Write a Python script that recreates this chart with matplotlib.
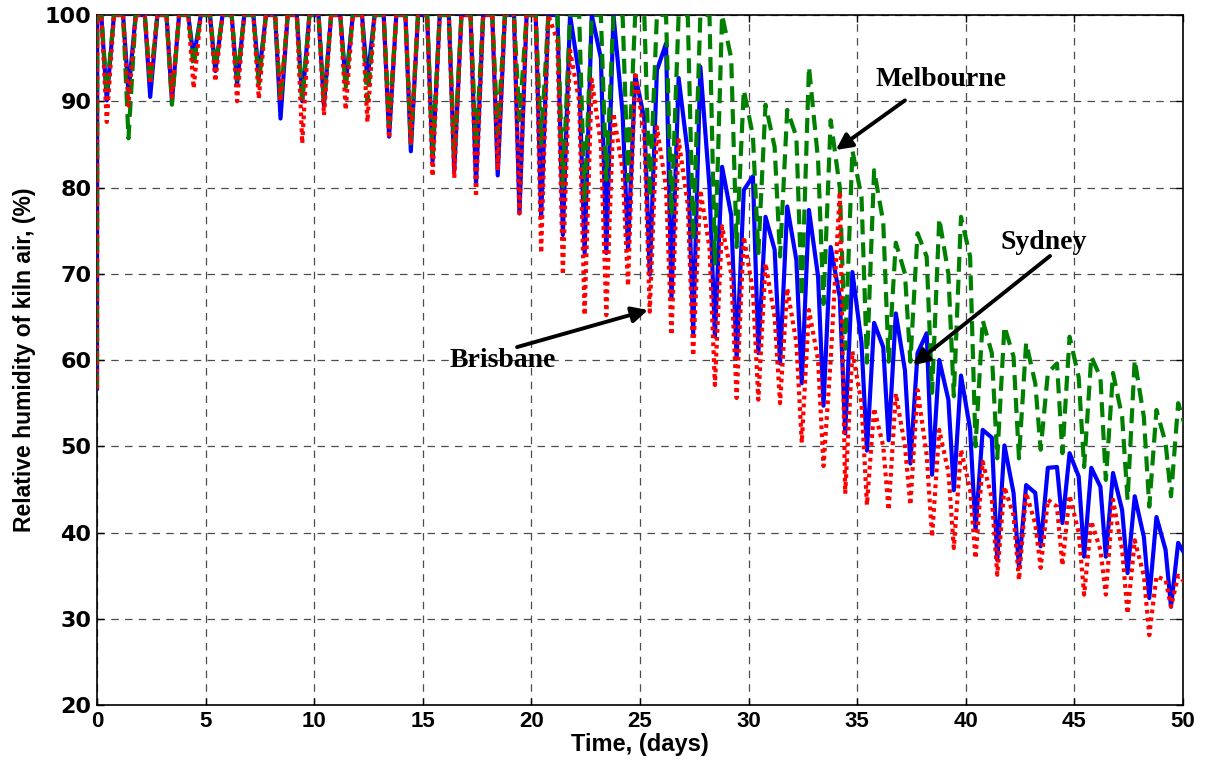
import numpy as np
import matplotlib
matplotlib.use("Agg")
import matplotlib.pyplot as plt

# ---------------- data ----------------
days = list(range(50))
start_value = 56.7

sydney_trough = [90.1, 91.0, 90.5, 90.0, 95.0, 93.5, 92.0, 92.8, 88.0, 90.0,
                 89.5, 92.0, 92.5, 85.9, 84.2, 83.0, 82.0, 80.4, 81.4, 77.0,
                 76.6, 74.5, 72.4, 72.4, 72.8, 69.9, 67.1, 63.1, 62.7, 60.2,
                 60.8, 59.6, 57.3, 54.7, 51.5, 49.5, 50.7, 48.0, 46.7, 44.9,
                 40.3, 36.8, 36.0, 38.4, 41.1, 37.2, 37.2, 35.3, 32.4, 31.4]
sydney_peak = [100] * 23 + [100, 93.0, 93.6, 92.7, 94.0, 82.4, 79.7, 76.6, 77.8,
                            77.4, 73.1, 70.2, 64.3, 65.4, 60.8, 60.0, 58.2, 51.9, 50.1,
                            45.5, 47.5, 49.2, 47.5, 46.9, 44.2, 41.8, 38.8]
sydney_shoulder = [100] * 21 + [93.0, 95.0, 88.6, 88.0, 96.7, 84.0, 80.1, 76.8, 81.3,
                                72.8, 71.6, 69.7, 67.3, 62.0, 61.5, 58.8, 63.1, 55.4, 52.0,
                                51.0, 44.6, 44.6, 47.6, 46.5, 45.3, 42.6, 39.5, 38.0, 37.0]

melbourne_trough = [91.0, 85.7, 92.0, 89.6, 94.0, 94.0, 92.5, 92.0, 90.0, 90.0,
                    90.0, 91.5, 90.0, 87.4, 85.1, 84.0, 83.7, 84.7, 86.3, 87.8,
                    85.1, 80.1, 78.2, 80.9, 80.8, 78.9, 76.8, 73.9, 71.2, 73.1,
                    72.4, 72.0, 67.3, 66.5, 61.3, 59.7, 59.8, 59.8, 56.2, 55.8,
                    50.0, 48.6, 48.6, 49.6, 49.2, 47.6, 46.1, 43.8, 43.0, 44.2]
melbourne_peak = [100] * 29 + [91.3, 89.6, 89.0, 94.0, 87.8, 84.3, 82.0, 73.6, 74.7,
                               76.4, 76.6, 64.6, 63.9, 62.0, 58.5, 62.7, 60.4, 58.5, 60.0,
                               54.2, 55.0]
melbourne_shoulder = [100] * 28 + [95.0, 86.0, 84.7, 85.9, 83.2, 80.0, 78.9, 76.0, 70.0,
                                   72.0, 70.0, 72.0, 60.8, 60.4, 57.3, 59.6, 58.0, 58.0, 53.4,
                                   53.4, 50.4, 51.5]

brisbane_trough = [87.6, 89.5, 92.0, 90.5, 91.5, 92.3, 90.0, 90.3, 90.0, 85.1,
                   88.4, 89.0, 87.6, 85.7, 85.0, 81.3, 81.1, 78.9, 82.0, 77.0,
                   72.4, 69.9, 65.2, 65.2, 68.6, 65.6, 62.9, 60.5, 57.1, 55.6,
                   55.4, 55.0, 50.4, 47.7, 44.5, 43.2, 42.6, 43.2, 39.5, 38.2,
                   37.0, 35.1, 34.5, 35.9, 36.2, 32.8, 32.8, 30.6, 28.1, 31.4]
brisbane_peak = [100] * 21 + [95.9, 92.5, 88.6, 93.4, 87.0, 85.5, 79.7, 75.5, 74.3,
                              71.2, 68.3, 65.8, 60.0, 61.0, 54.4, 56.1, 56.5, 51.9, 49.6,
                              48.2, 45.3, 44.6, 43.8, 44.3, 41.3, 43.8, 39.1, 34.9, 35.0]
brisbane_shoulder = [100] * 20 + [97.0, 90.0, 85.0, 82.0, 86.0, 80.0, 78.0, 73.0, 70.0,
                                  68.0, 65.0, 62.0, 60.0, 79.5, 55.0, 50.0, 50.0, 49.0, 47.0,
                                  45.0, 44.0, 42.0, 41.0, 43.0, 40.0, 38.0, 38.0, 35.0, 34.5,
                                  34.0]

x_ticks = [0, 5, 10, 15, 20, 25, 30, 35, 40, 45, 50]
y_ticks = [20, 30, 40, 50, 60, 70, 80, 90, 100]

# annotation label positions and arrow targets (data units)
labels = ['Melbourne', 'Sydney', 'Brisbane']
label_xy = [(38.86, 92.5), (43.6, 73.6), (18.69, 60.0)]
arrow_tail = [(37.2, 90.1), (43.88, 72.06), (19.34, 61.5)]
arrow_head = [(34.02, 84.35), (37.57, 59.4), (25.37, 65.8)]

# time of each daily feature within the day cycle
TROUGH_T, PEAK_T, SHOULDER_T = 0.45, 0.78, 1.2


def build(trough, peak, shoulder):
    t = [0.0, 0.01, 0.2]
    v = [start_value, 100.0, 100.0]
    for d, tr, pk, sh in zip(days, trough, peak, shoulder):
        t += [d + TROUGH_T, d + PEAK_T, d + SHOULDER_T]
        v += [tr, pk, sh]
    return np.array(t), np.array(v)


plt.rcParams['font.family'] = ['DejaVu Sans']
fig = plt.figure(figsize=(12.05, 7.66), dpi=100)
ax = fig.add_axes([0.0805, 0.0796, 0.9012, 0.9008])

ts, vs = build(sydney_trough, sydney_peak, sydney_shoulder)
tm, vm = build(melbourne_trough, melbourne_peak, melbourne_shoulder)
tb, vb = build(brisbane_trough, brisbane_peak, brisbane_shoulder)

ax.plot(ts, vs, color=(0, 0, 1), lw=3.0, ls='-', zorder=3)
ax.plot(tm, vm, color=(0, 0.5, 0), lw=3.0, ls=(0, (3.6, 1.9)), zorder=4)
ax.plot(tb, vb, color=(1, 0, 0), lw=3.0, ls=(0, (0.9, 1.0)), zorder=5)

ax.set_xlim(0, 50)
ax.set_ylim(20, 100)
ax.set_xticks(x_ticks)
ax.set_yticks(y_ticks)
ax.set_xticklabels([str(v) for v in x_ticks], fontsize=16, fontweight='bold',
                   family=['Liberation Sans', 'DejaVu Sans'])
ax.set_yticklabels([str(v) for v in y_ticks], fontsize=16, fontweight='heavy')
ax.tick_params(direction='in', length=5, width=1, pad=4, top=True, right=True)
ax.grid(True, color='0.3', ls=(0, (6, 5)), lw=0.9)
for s in ax.spines.values():
    s.set_linewidth(1.2)

ax.set_xlabel('Time, (days)', fontsize=17, fontweight='bold',
              family=['Liberation Sans', 'DejaVu Sans'], labelpad=1)
ax.set_ylabel('Relative humidity of kiln air, (%)', fontsize=16.5, fontweight='bold',
              family=['Liberation Sans', 'DejaVu Sans'], labelpad=6)

serif = ['Liberation Serif', 'DejaVu Serif']
for name, lxy, tail, head in zip(labels, label_xy, arrow_tail, arrow_head):
    ax.text(lxy[0], lxy[1], name, fontsize=20, fontweight='bold', family=serif,
            ha='center', va='center', zorder=7)
    ax.annotate('', xy=head, xytext=tail, zorder=7,
                arrowprops=dict(arrowstyle='-|>', color='black', lw=2.8,
                                mutation_scale=24, shrinkA=0, shrinkB=0))

fig.savefig('out.png', dpi=100)
